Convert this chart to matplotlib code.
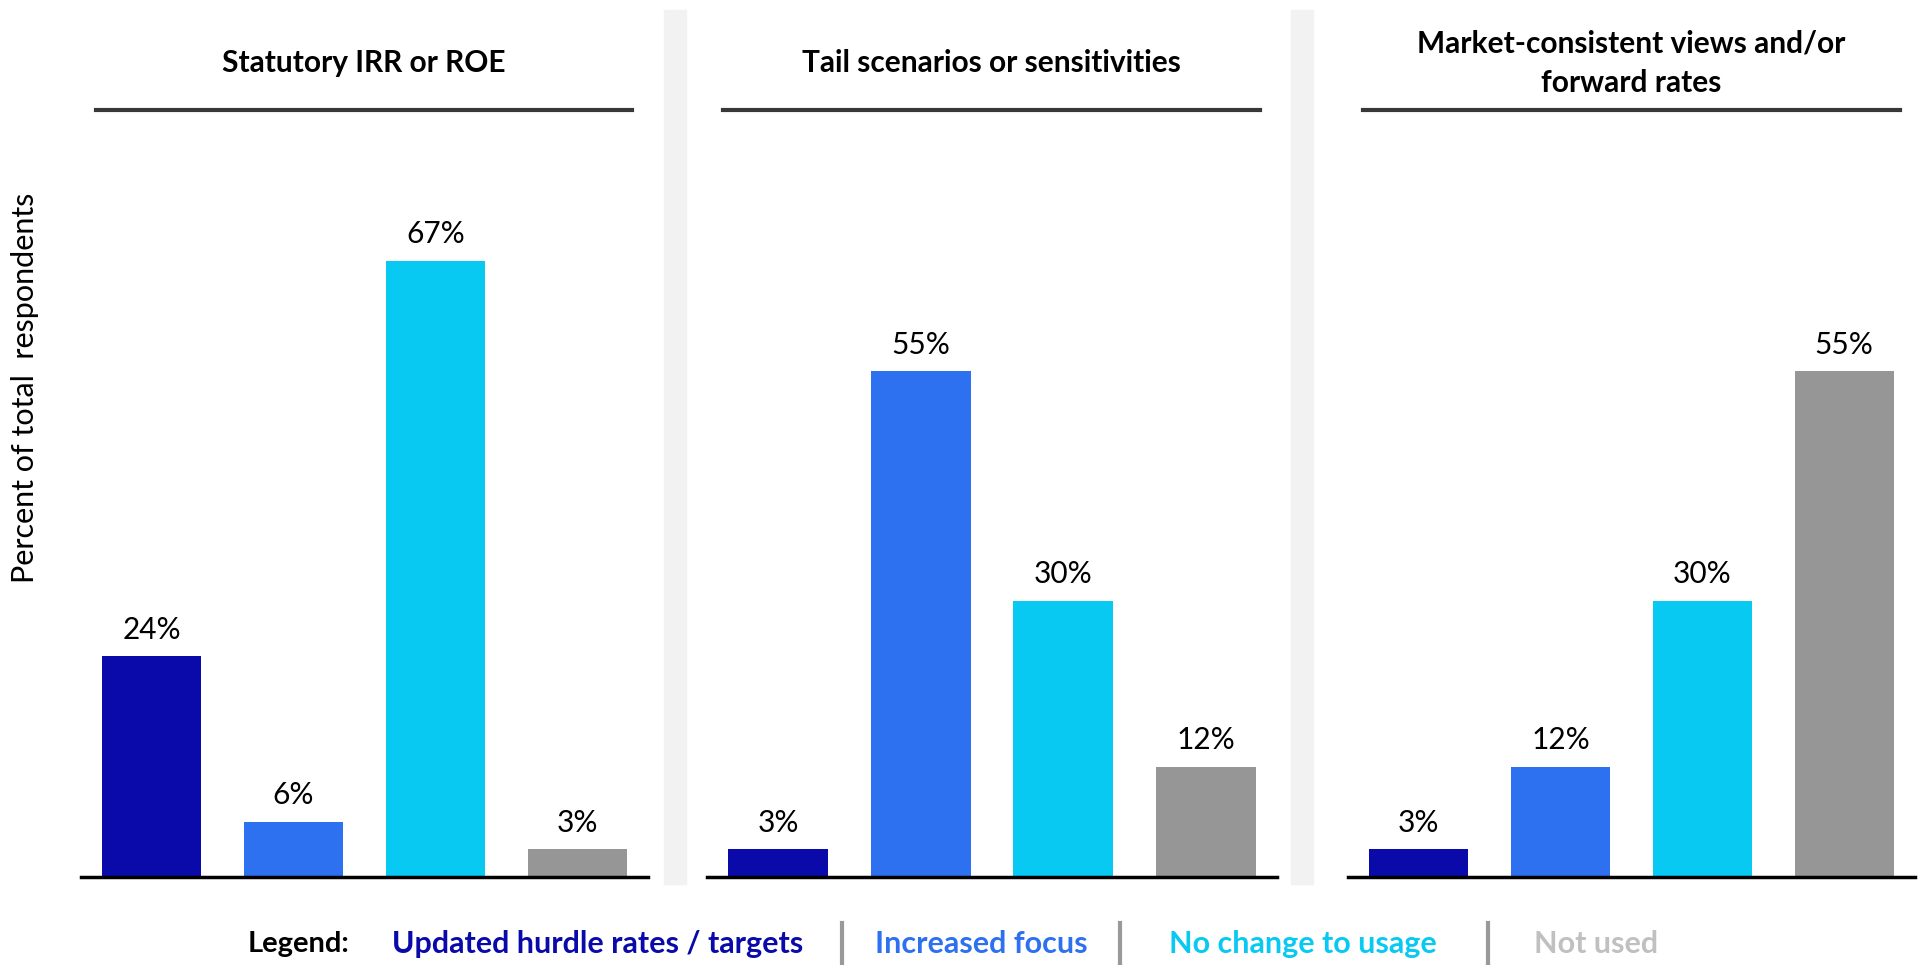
import matplotlib
matplotlib.use("Agg")
import matplotlib.pyplot as plt
from matplotlib.lines import Line2D
from matplotlib.patches import Rectangle

plt.rcParams['font.family'] = ['Lato', 'DejaVu Sans']

# survey results, one list of shares per panel
panel_titles = ["Statutory IRR or ROE",
                "Tail scenarios or sensitivities",
                "Market-consistent views and/or\nforward rates"]
responses = ["Updated hurdle rates / targets", "Increased focus",
             "No change to usage", "Not used"]
shares_irr = [24, 6, 67, 3]
shares_tail = [3, 55, 30, 12]
shares_market = [3, 12, 30, 55]

bar_colors = ["#0a0aab", "#2d70f0", "#08c9f2", "#969696"]
legend_colors = ["#0a0aab", "#2d70f0", "#08c9f2", "#c0c0c0"]

W, H = 1925, 965
fig = plt.figure(figsize=(W / 100, H / 100), dpi=100)


def fx(x):
    return x / W


def fy(y):
    return 1 - y / H


# light grey bands between the panels
for x0 in [664, 1291]:
    fig.add_artist(Rectangle((fx(x0), fy(884)), 22 / W, 874 / H,
                             transform=fig.transFigure, color="#f2f2f2", zorder=0))

panels = [(81, 567, shares_irr), (707, 570, shares_tail), (1348, 567, shares_market)]
title_spans = [(96, 632), (723, 1260), (1363, 1900)]

for i, (left, width, shares) in enumerate(panels):
    ax = fig.add_axes([fx(left), fy(877), width / W, 717 / H])
    xs = range(len(shares))
    ax.bar(xs, shares, width=0.7, color=bar_colors, zorder=2)
    for x, v in zip(xs, shares):
        ax.text(x, v + 1.4, f"{v}%", ha="center", va="bottom", fontsize=21.5)
    ax.set_xlim(-0.5, 3.5)
    ax.set_ylim(0, 78)
    ax.set_xticks([])
    ax.set_yticks([])
    for s in ["top", "right", "left"]:
        ax.spines[s].set_visible(False)
    ax.spines["bottom"].set_linewidth(2.5)
    ax.spines["bottom"].set_color("black")
    ax.patch.set_alpha(0)

    # panel heading with rule underneath
    x0, x1 = title_spans[i]
    fig.text(fx((x0 + x1) / 2), fy(63), panel_titles[i], ha="center", va="center",
             fontsize=21.5, fontweight="bold", linespacing=1.5)
    fig.add_artist(Line2D([fx(x0), fx(x1)], [fy(110), fy(110)],
                          transform=fig.transFigure, color="#383838", linewidth=3))

fig.text(fx(25), fy(388), "Percent of total  respondents", rotation=90,
         ha="center", va="center", fontsize=22)

# legend row along the bottom
fig.text(fx(299), fy(944), "Legend:", ha="center", va="center",
         fontsize=21, fontweight="bold", color="black")
for label, color, cx in zip(responses, legend_colors, [598, 981, 1303, 1596]):
    fig.text(fx(cx), fy(944), label, ha="center", va="center",
             fontsize=22, fontweight="bold", color=color)
for sx in [842, 1120, 1488]:
    fig.add_artist(Line2D([fx(sx), fx(sx)], [fy(923), fy(965)],
                          transform=fig.transFigure, color="#999999", linewidth=3))

fig.savefig("out.png", dpi=100)
